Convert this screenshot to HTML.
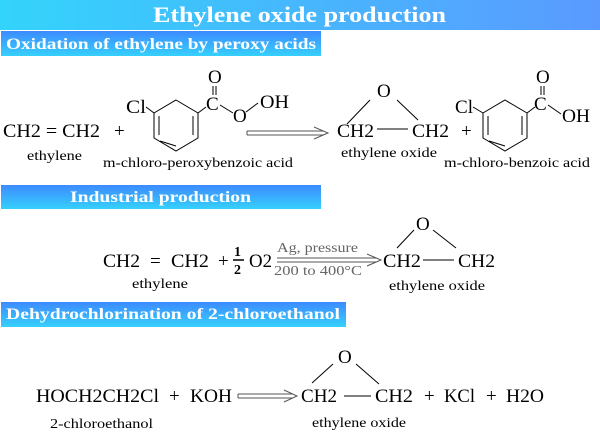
<!DOCTYPE html>
<html><head><meta charset="utf-8"><style>
html,body{margin:0;padding:0;background:#fff;width:600px;height:440px;overflow:hidden}
svg text{font-family:"Liberation Serif",serif}
</style></head><body>
<svg width="600" height="440" viewBox="0 0 600 440" xmlns="http://www.w3.org/2000/svg">
<defs>
<linearGradient id="t" x1="0" x2="1" y1="0" y2="0"><stop offset="0" stop-color="#33d4fb"/><stop offset="1" stop-color="#5a9aff"/></linearGradient>
<linearGradient id="s" x1="0" x2="0" y1="0" y2="1"><stop offset="0" stop-color="#3d8bff"/><stop offset="1" stop-color="#36d0fb"/></linearGradient>
</defs>
<rect x="0" y="0" width="600" height="30" fill="url(#t)"/>
<text x="153" y="22" font-size="22" font-weight="bold" fill="#fff" textLength="293" lengthAdjust="spacingAndGlyphs">Ethylene oxide production</text>

<rect x="1" y="31" width="320" height="25" fill="url(#s)"/>
<text x="6" y="49" font-size="16" font-weight="bold" fill="#fff" textLength="310" lengthAdjust="spacingAndGlyphs">Oxidation of ethylene by peroxy acids</text>
<rect x="1" y="185" width="320" height="24" fill="url(#s)"/>
<text x="70" y="202" font-size="16" font-weight="bold" fill="#fff" textLength="181" lengthAdjust="spacingAndGlyphs">Industrial production</text>
<rect x="1" y="302" width="345" height="25" fill="url(#s)"/>
<text x="6" y="319" font-size="16" font-weight="bold" fill="#fff" textLength="334" lengthAdjust="spacingAndGlyphs">Dehydrochlorination of 2-chloroethanol</text>

<g fill="#000" stroke="none">
<!-- reaction 1 -->
<text x="3" y="137" font-size="19" textLength="97" lengthAdjust="spacingAndGlyphs">CH2 = CH2</text>
<text x="27" y="160" font-size="14" textLength="55" lengthAdjust="spacingAndGlyphs">ethylene</text>
<text x="114" y="137" font-size="19">+</text>
<text x="126" y="113" font-size="19" textLength="20" lengthAdjust="spacingAndGlyphs">Cl</text>
<text x="206" y="110" font-size="19">C</text>
<text x="208" y="83" font-size="19">O</text>
<text x="233" y="122" font-size="19">O</text>
<text x="260" y="108" font-size="19" textLength="29" lengthAdjust="spacingAndGlyphs">OH</text>
<text x="103" y="167" font-size="14" textLength="190" lengthAdjust="spacingAndGlyphs">m-chloro-peroxybenzoic acid</text>
<text x="377" y="97" font-size="19">O</text>
<text x="337" y="137" font-size="19" textLength="37" lengthAdjust="spacingAndGlyphs">CH2</text>
<text x="412" y="137" font-size="19" textLength="37" lengthAdjust="spacingAndGlyphs">CH2</text>
<text x="341" y="157" font-size="14" textLength="96" lengthAdjust="spacingAndGlyphs">ethylene oxide</text>
<text x="461" y="137" font-size="19">+</text>
<text x="455" y="113" font-size="19" textLength="18" lengthAdjust="spacingAndGlyphs">Cl</text>
<text x="534" y="110" font-size="19">C</text>
<text x="536" y="83" font-size="19">O</text>
<text x="562" y="122" font-size="19" textLength="28" lengthAdjust="spacingAndGlyphs">OH</text>
<text x="444" y="167" font-size="14" textLength="146" lengthAdjust="spacingAndGlyphs">m-chloro-benzoic acid</text>

<!-- reaction 2 -->
<text x="103" y="267" font-size="19" textLength="37" lengthAdjust="spacingAndGlyphs">CH2</text>
<text x="150" y="267" font-size="19">=</text>
<text x="171" y="267" font-size="19" textLength="38" lengthAdjust="spacingAndGlyphs">CH2</text>
<text x="132" y="288" font-size="14" textLength="56" lengthAdjust="spacingAndGlyphs">ethylene</text>
<text x="218" y="267" font-size="19">+</text>
<text x="234" y="256" font-size="14" font-weight="bold">1</text>
<text x="234" y="274" font-size="14" font-weight="bold">2</text>
<text x="249" y="267" font-size="19" textLength="23" lengthAdjust="spacingAndGlyphs">O2</text>
<text x="277" y="252" font-size="14" fill="#666" textLength="81" lengthAdjust="spacingAndGlyphs">Ag, pressure</text>
<text x="274" y="275" font-size="14" fill="#666" textLength="88" lengthAdjust="spacingAndGlyphs">200 to 400°C</text>
<text x="416" y="230" font-size="19">O</text>
<text x="383" y="267" font-size="19" textLength="38" lengthAdjust="spacingAndGlyphs">CH2</text>
<text x="458" y="267" font-size="19" textLength="37" lengthAdjust="spacingAndGlyphs">CH2</text>
<text x="389" y="290" font-size="14" textLength="96" lengthAdjust="spacingAndGlyphs">ethylene oxide</text>

<!-- reaction 3 -->
<text x="36" y="402" font-size="19" textLength="123" lengthAdjust="spacingAndGlyphs">HOCH2CH2Cl</text>
<text x="169" y="402" font-size="19">+</text>
<text x="190" y="402" font-size="19" textLength="42" lengthAdjust="spacingAndGlyphs">KOH</text>
<text x="301" y="402" font-size="19" textLength="36" lengthAdjust="spacingAndGlyphs">CH2</text>
<text x="375" y="402" font-size="19" textLength="38" lengthAdjust="spacingAndGlyphs">CH2</text>
<text x="424" y="402" font-size="19">+</text>
<text x="444" y="402" font-size="19" textLength="31" lengthAdjust="spacingAndGlyphs">KCl</text>
<text x="486" y="402" font-size="19">+</text>
<text x="506" y="402" font-size="19" textLength="38" lengthAdjust="spacingAndGlyphs">H2O</text>
<text x="338" y="363" font-size="19">O</text>
<text x="50" y="428" font-size="14" textLength="103" lengthAdjust="spacingAndGlyphs">2-chloroethanol</text>
<text x="312" y="427" font-size="14" textLength="94" lengthAdjust="spacingAndGlyphs">ethylene oxide</text>
</g>

<g stroke="#000" stroke-width="1" fill="none">
<!-- ring 1 -->
<polygon points="176,100 198,113 198,138 176,151 154,138 154,113"/>
<line x1="159" y1="116" x2="159" y2="135"/>
<line x1="193" y1="116" x2="193" y2="135"/>
<line x1="160" y1="141" x2="176" y2="146"/>
<line x1="154" y1="113" x2="146" y2="107"/>
<line x1="198" y1="113" x2="206" y2="107"/>
<line x1="213" y1="86" x2="213" y2="95"/><line x1="216" y1="86" x2="216" y2="95"/>
<line x1="220" y1="105" x2="233" y2="113"/>
<line x1="246" y1="112" x2="258" y2="103"/>
<!-- ring 2 -->
<polygon points="505,100 527,113 527,138 505,151 483,138 483,113"/>
<line x1="488" y1="116" x2="488" y2="135"/>
<line x1="522" y1="116" x2="522" y2="135"/>
<line x1="489" y1="141" x2="505" y2="146"/>
<line x1="483" y1="113" x2="473" y2="107"/>
<line x1="527" y1="113" x2="535" y2="107"/>
<line x1="541" y1="86" x2="541" y2="95"/><line x1="544" y1="86" x2="544" y2="95"/>
<line x1="548" y1="105" x2="561" y2="114"/>
<!-- epoxides -->
<line x1="347" y1="124" x2="370" y2="100"/><line x1="397" y1="100" x2="418" y2="120"/><line x1="377" y1="129" x2="408" y2="129"/>
<line x1="397" y1="248" x2="414" y2="230"/><line x1="433" y1="230" x2="456" y2="248"/><line x1="423" y1="260" x2="454" y2="260"/>
<line x1="312" y1="383" x2="333" y2="364"/><line x1="356" y1="364" x2="379" y2="384"/><line x1="344" y1="396" x2="371" y2="396"/>
<!-- fraction bar -->
<line x1="233" y1="260" x2="244" y2="260" stroke-width="1.5"/>
</g>
<g stroke="#555" stroke-width="1" fill="none">
<polyline points="247,131 324,131"/><polyline points="247,135 324,135"/><polyline points="247,131 247,135"/>
<polyline points="314,127 328,133 314,139"/>
<polyline points="277,258 376,258"/><polyline points="277,262 376,262"/>
<polyline points="367,254 381,260 367,266"/>
<polyline points="238,394 292,394"/><polyline points="238,398 292,398"/><polyline points="238,394 238,398"/>
<polyline points="284,390 297,396 284,402"/>
</g>
</svg>
</body></html>
